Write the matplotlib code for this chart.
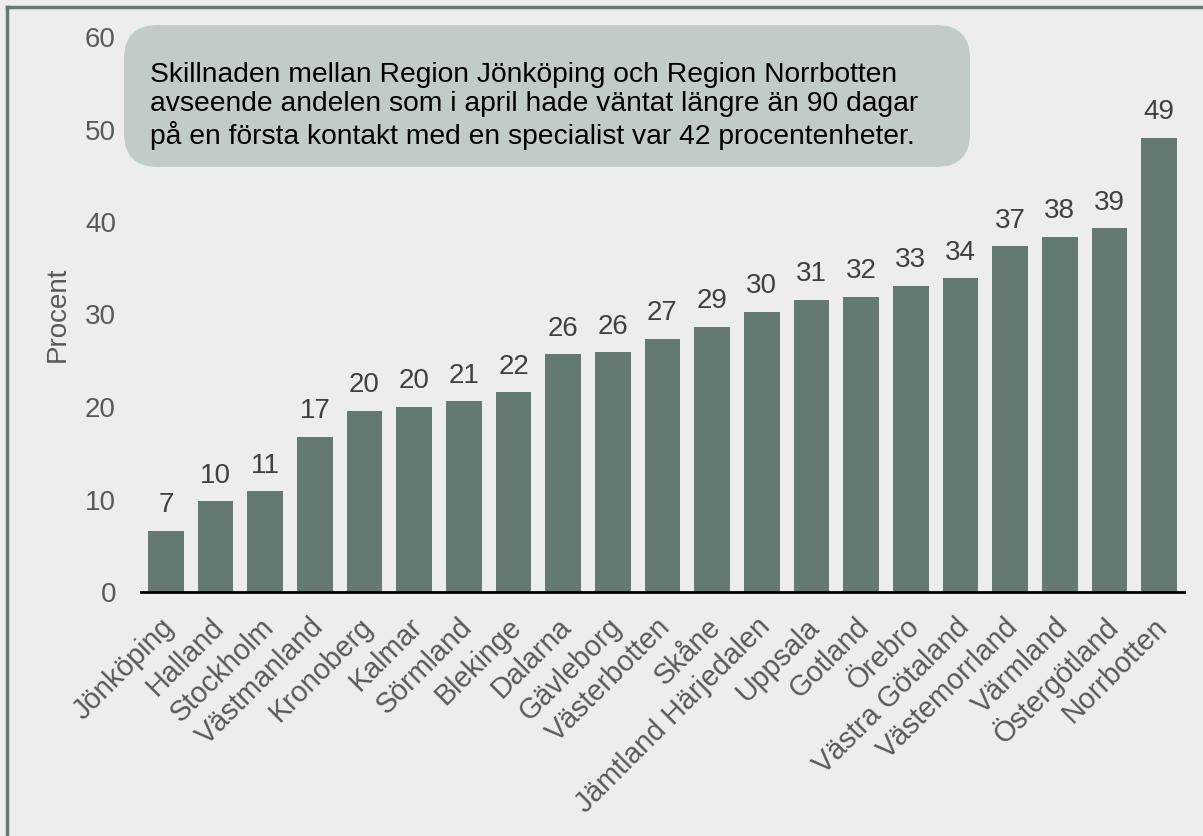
import matplotlib
matplotlib.use("Agg")
import matplotlib.pyplot as plt
from matplotlib.patches import FancyBboxPatch
from matplotlib.lines import Line2D
from matplotlib.transforms import ScaledTranslation

plt.rcParams['font.family'] = ['Liberation Sans', 'DejaVu Sans']

regions = ["Jönköping", "Halland", "Stockholm", "Västmanland", "Kronoberg", "Kalmar",
           "Sörmland", "Blekinge", "Dalarna", "Gävleborg", "Västerbotten", "Skåne",
           "Jämtland Härjedalen", "Uppsala", "Gotland", "Örebro", "Västra Götaland",
           "Västemorrland", "Värmland", "Östergötland", "Norrbotten"]
values = [6.6, 9.8, 10.9, 16.8, 19.6, 20.0, 20.6, 21.6, 25.7, 25.9, 27.4, 28.7,
          30.3, 31.6, 31.9, 33.1, 33.9, 37.4, 38.4, 39.3, 49.1]
labels = ["7", "10", "11", "17", "20", "20", "21", "22", "26", "26", "27", "29",
          "30", "31", "32", "33", "34", "37", "38", "39", "49"]
note = ("Skillnaden mellan Region Jönköping och Region Norrbotten\n"
        "avseende andelen som i april hade väntat längre än 90 dagar\n"
        "på en första kontakt med en specialist var 42 procentenheter.")

BG = "#EDEDED"
BAR = "#647A70"
FRAME = "#657A70"
BOX = "#C2CCC6"
FS = 20

fig = plt.figure(figsize=(12.03, 8.36), dpi=100, facecolor=BG)
ax = fig.add_axes([141/1203, 1-592/836, (1184-141)/1203, (592-37)/836])
ax.set_facecolor(BG)

n = len(values)
x = list(range(n))
ax.bar(x, values, width=0.72, color=BAR, zorder=2)
for xi, v, lab in zip(x, values, labels):
    ax.annotate(lab, (xi, v), xytext=(0, 9), textcoords="offset points",
                ha="center", va="bottom", fontsize=FS, color="#404040")

ax.set_xlim(-0.5, n - 0.5)
ax.set_ylim(0, 60)
ax.set_yticks(range(0, 61, 10))
ax.tick_params(axis="y", length=0, labelsize=FS, labelcolor="#595959", pad=18)
ax.tick_params(axis="x", length=0, labelsize=20.6, labelcolor="#595959", pad=22)
ax.set_xticks(x)
ax.set_xticklabels(regions, rotation=45, ha="right", va="center", rotation_mode="anchor")
off = ScaledTranslation(4/100, 0, fig.dpi_scale_trans)
for t in ax.get_xticklabels():
    t.set_transform(t.get_transform() + off)
for s in ["left", "right", "top"]:
    ax.spines[s].set_visible(False)
ax.spines["bottom"].set_color("black")
ax.spines["bottom"].set_linewidth(2)
ax.set_ylabel("Procent", fontsize=FS, color="#595959", labelpad=10)

# annotation box
box = FancyBboxPatch((124/1203, 1-167/836), (970-124)/1203, (167-25)/836,
                     boxstyle="round,pad=0,rounding_size=0.028",
                     transform=fig.transFigure, facecolor=BOX, edgecolor="none",
                     mutation_aspect=1203/836, zorder=3)
fig.patches.append(box)
fig.text(150/1203, 1-106/836, note, fontsize=20.3, color="black", ha="left",
         va="center", linespacing=1.17, zorder=4)

# frame lines
fig.add_artist(Line2D([6.5/1203, 6.5/1203], [0, 1-7/836], color=FRAME, lw=2.5,
                      transform=fig.transFigure))
fig.add_artist(Line2D([6.5/1203, 1], [1-7/836, 1-7/836], color=FRAME, lw=2.5,
                      transform=fig.transFigure))

fig.savefig("out.png", dpi=100, facecolor=BG)
